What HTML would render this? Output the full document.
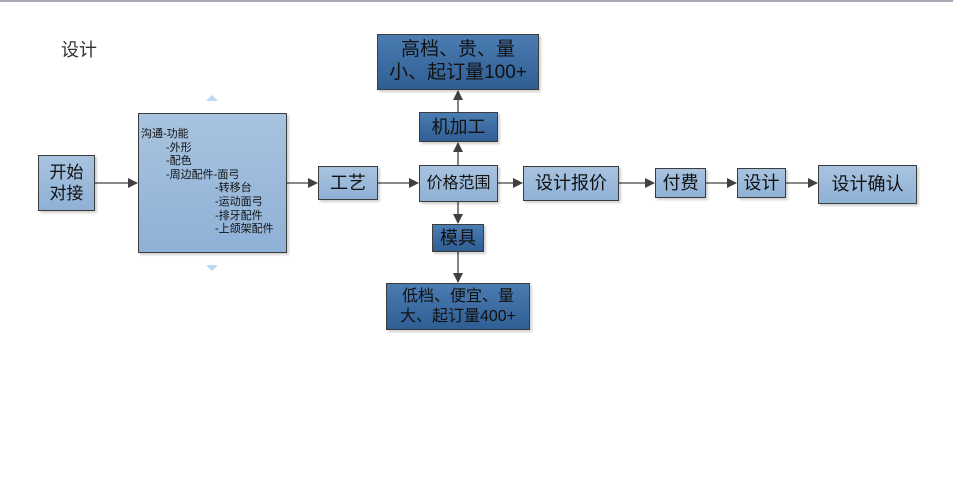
<!DOCTYPE html>
<html><head><meta charset="utf-8"><style>
body{margin:0;width:953px;height:478px;background:#fff;position:relative;overflow:hidden;font-family:"Liberation Sans","Noto Sans CJK SC",sans-serif;}
.b{position:absolute;box-sizing:border-box;border:1px solid #3c3c3c;box-shadow:2px 2px 2px rgba(0,0,0,0.18);display:flex;align-items:center;justify-content:center;text-align:center;color:#111;line-height:1.25;}
.l{background:linear-gradient(#a8c3df,#8fb1d6);}
.d{background:linear-gradient(#4b7cb2,#2f5e93);}
.t div{height:13.6px;white-space:nowrap}
</style></head><body>
<div style="position:absolute;left:0;top:0;width:953px;height:2px;background:#a5a9b3"></div>
<div style="position:absolute;left:61px;top:36px;font-size:18px;color:#333">设计</div>
<svg style="position:absolute;left:0;top:0" width="953" height="478">
<defs><marker id="a" markerWidth="10" markerHeight="10" refX="9" refY="5" orient="auto" markerUnits="userSpaceOnUse"><path d="M0,0 L10,5 L0,10 Z" fill="#404040"/></marker></defs>
<g stroke="#404040" stroke-width="1.3" fill="none">
<line x1="95" y1="183" x2="137" y2="183" marker-end="url(#a)"/>
<line x1="287" y1="183" x2="317" y2="183" marker-end="url(#a)"/>
<line x1="378" y1="183" x2="418" y2="183" marker-end="url(#a)"/>
<line x1="498" y1="183" x2="522" y2="183" marker-end="url(#a)"/>
<line x1="619" y1="183" x2="654" y2="183" marker-end="url(#a)"/>
<line x1="706" y1="183" x2="736" y2="183" marker-end="url(#a)"/>
<line x1="786" y1="183" x2="817" y2="183" marker-end="url(#a)"/>
<line x1="458" y1="165" x2="458" y2="143" marker-end="url(#a)"/>
<line x1="458" y1="112" x2="458" y2="91" marker-end="url(#a)"/>
<line x1="458" y1="202" x2="458" y2="223" marker-end="url(#a)"/>
<line x1="458" y1="252" x2="458" y2="282" marker-end="url(#a)"/>
</g>
<path d="M206,101 L212,95 L218,101 Z" fill="#bcd8f3"/>
<path d="M206,265 L212,271 L218,265 Z" fill="#bcd8f3"/>
</svg>
<div class="b l" style="left:38px;top:155px;width:57px;height:56px;font-size:17px">开始<br>对接</div>
<div class="b l t" style="left:138px;top:113px;width:149px;height:140px;font-size:11px;display:block;text-align:left;padding-top:14px;padding-left:2px;line-height:13.6px">
<div>沟通-功能</div>
<div style="padding-left:25px">-外形</div>
<div style="padding-left:25px">-配色</div>
<div style="padding-left:25px">-周边配件-面弓</div>
<div style="padding-left:74px">-转移台</div>
<div style="padding-left:74px">-运动面弓</div>
<div style="padding-left:74px">-排牙配件</div>
<div style="padding-left:74px">-上颌架配件</div>
</div>
<div class="b l" style="left:318px;top:166px;width:60px;height:34px;font-size:18px">工艺</div>
<div class="b l" style="left:419px;top:165px;width:79px;height:37px;font-size:16px">价格范围</div>
<div class="b d" style="left:419px;top:112px;width:79px;height:30px;font-size:18px">机加工</div>
<div class="b d" style="left:377px;top:34px;width:162px;height:56px;font-size:19px;line-height:1.2">高档、贵、量<br>小、起订量100+</div>
<div class="b d" style="left:432px;top:224px;width:52px;height:28px;font-size:18px">模具</div>
<div class="b d" style="left:386px;top:283px;width:144px;height:47px;font-size:16px">低档、便宜、量<br>大、起订量400+</div>
<div class="b l" style="left:523px;top:166px;width:96px;height:35px;font-size:18px">设计报价</div>
<div class="b l" style="left:655px;top:168px;width:51px;height:30px;font-size:18px">付费</div>
<div class="b l" style="left:737px;top:168px;width:49px;height:30px;font-size:18px">设计</div>
<div class="b l" style="left:818px;top:165px;width:99px;height:39px;font-size:18px">设计确认</div>
</body></html>
